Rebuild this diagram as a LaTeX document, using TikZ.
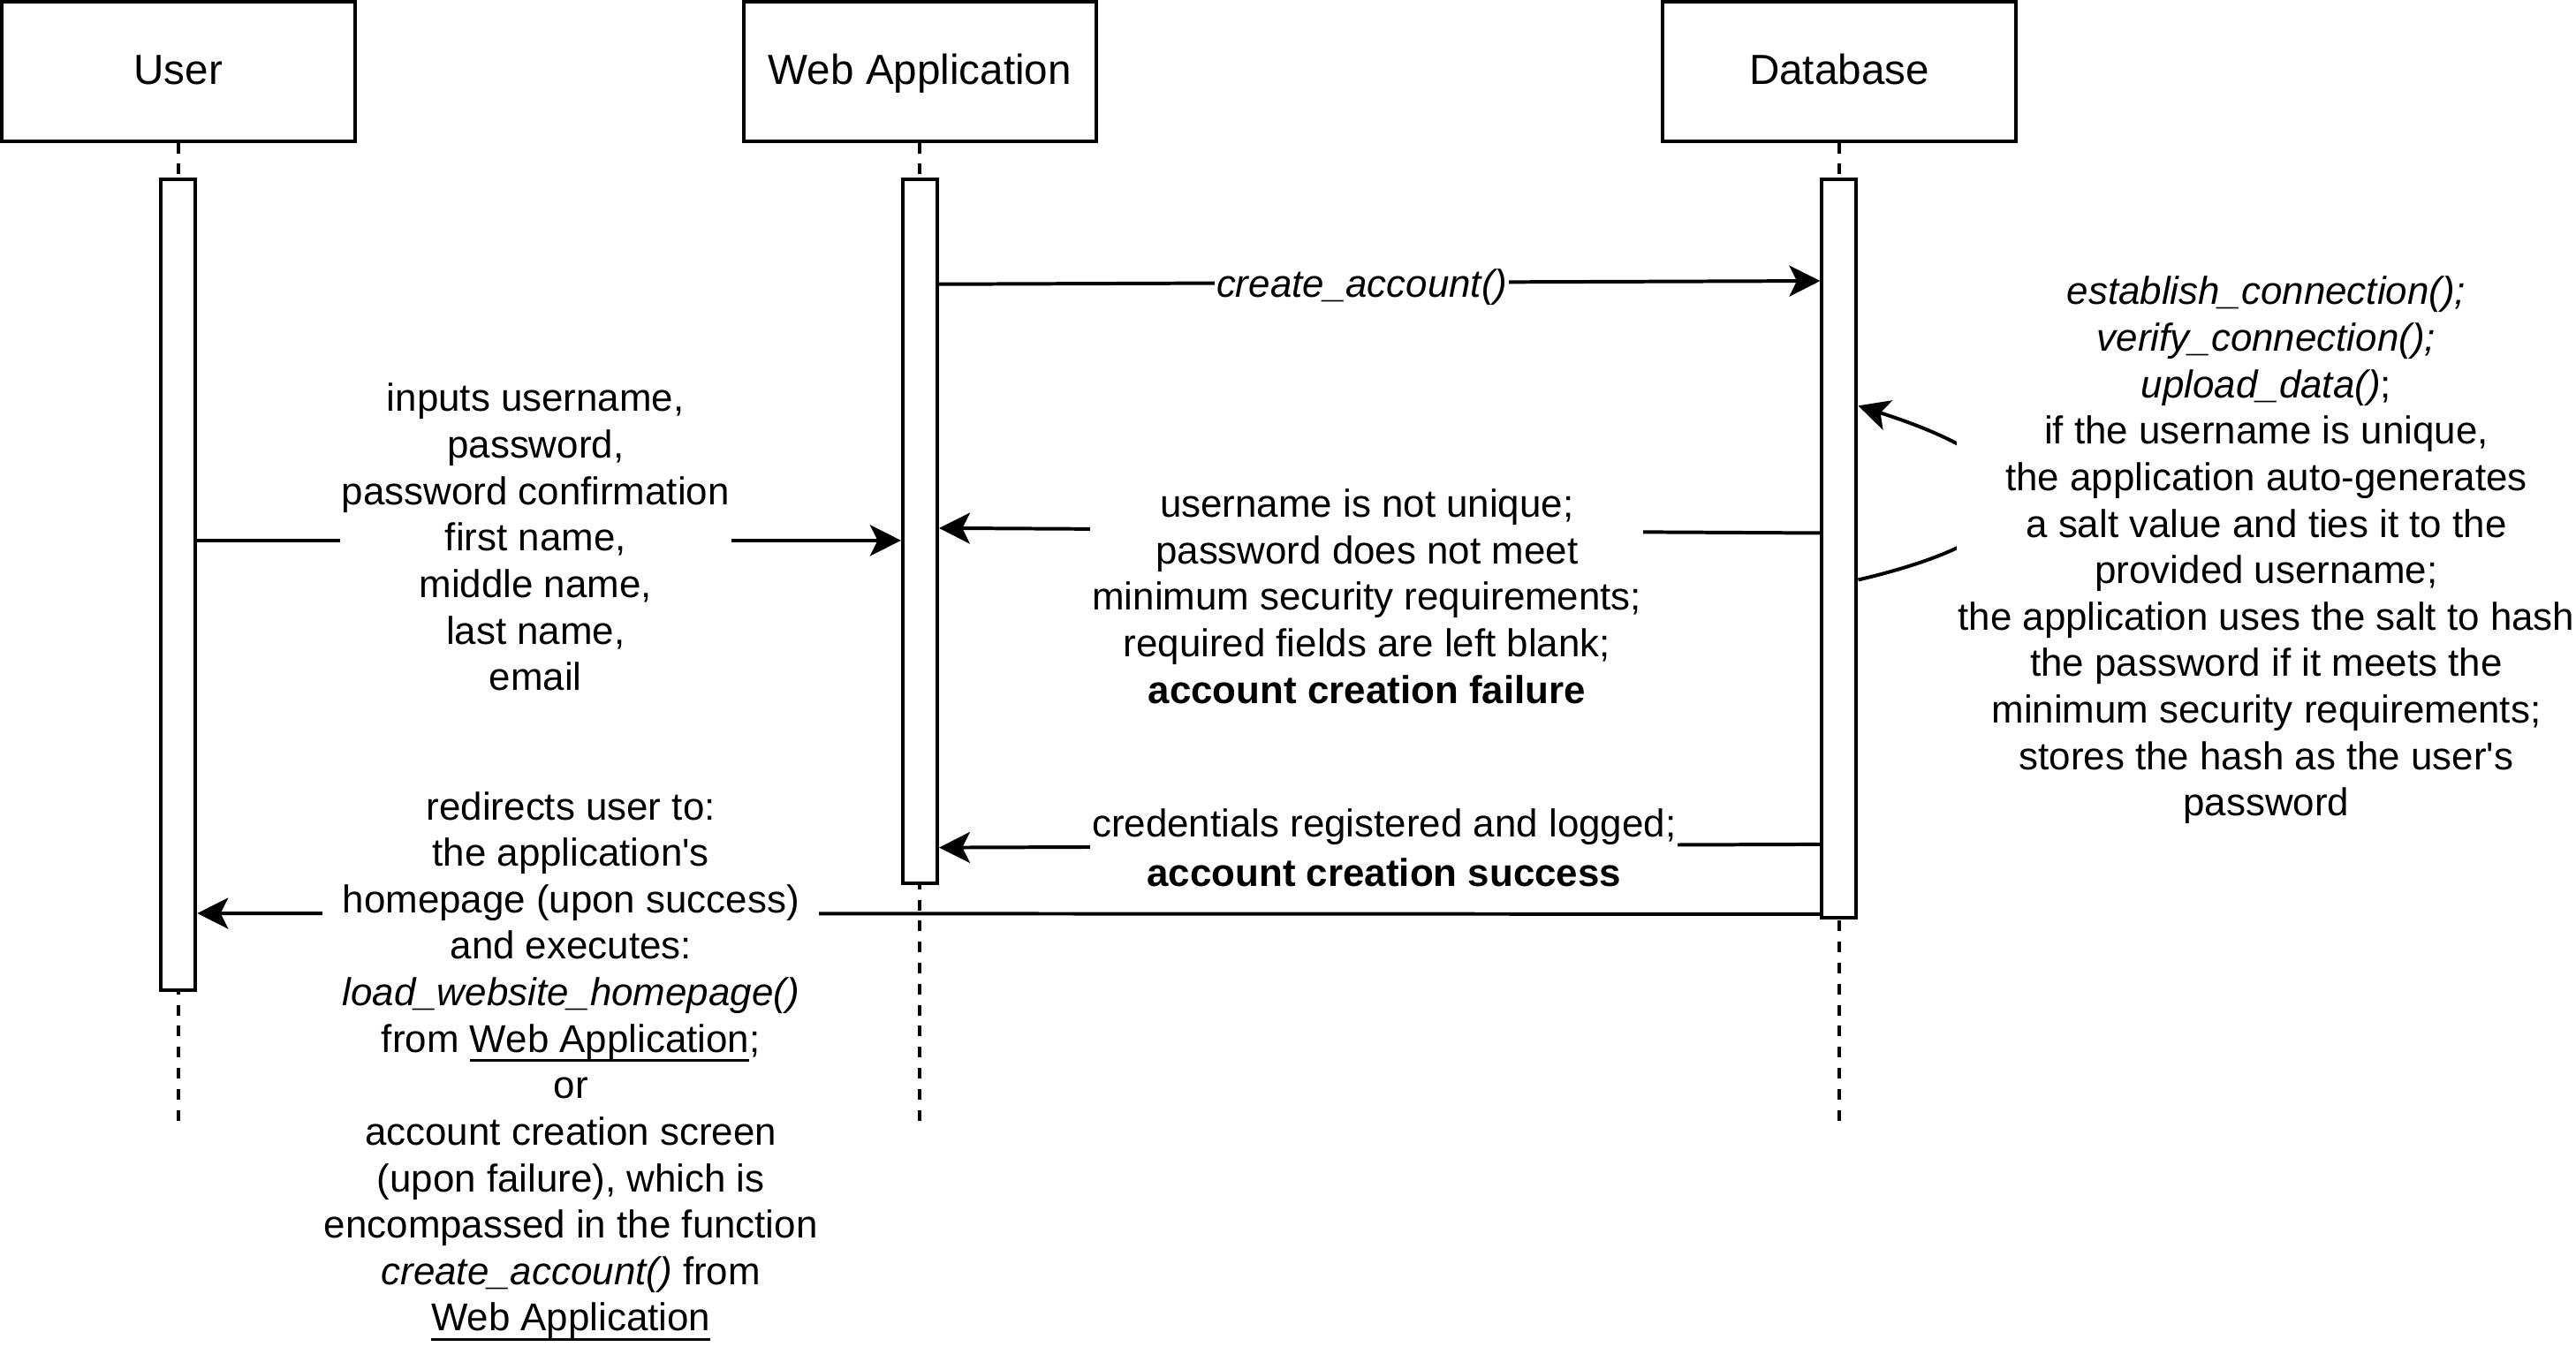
\documentclass[tikz,border=0pt]{standalone}
\usepackage{fontspec}
\setmainfont{Liberation Sans}
\usetikzlibrary{arrows.meta,positioning}
\newcommand{\undl}[1]{\setbox0\hbox{#1}\rlap{\rule[-2.9pt]{\wd0}{0.7pt}}\box0}

\begin{document}
\begin{tikzpicture}[x=0.5pt,y=-0.5pt,line width=1.07pt,>={Stealth[length=9.4pt,width=9.4pt,inset=2.3pt]},
  actor/.style={draw,anchor=north,minimum width=107.4pt,minimum height=42.4pt,inner sep=0pt,text height=9.7pt,text depth=2pt,font=\fontsize{12.8}{15.4}\selectfont},
  activation/.style={draw,fill=white,anchor=north,minimum width=10.5pt,inner sep=0pt},
  lifeline/.style={dash pattern=on 3.2pt off 3.2pt},
  msg/.style={->},
  lbl/.style={fill=white,align=center,inner xsep=0.5pt,inner ysep=1pt,font=\fontsize{11.8}{14.15}\selectfont}]

\useasboundingbox (0,0) rectangle (1568,819.5);

\node[actor] (user) at (108.5,0) {User};
\node[actor] (webapp) at (560,0) {Web Application};
\node[actor] (db) at (1119.5,0) {Database};

\coordinate (user-end) at (108.5,687);
\coordinate (webapp-end) at (560,687);
\coordinate (db-end) at (1119.5,687);
\draw[lifeline] (user) -- (user-end);
\draw[lifeline] (webapp) -- (webapp-end);
\draw[lifeline] (db) -- (db-end);

\node[activation,minimum height=246.9pt] (userbar) at (108.5,108) {};
\node[activation,minimum height=214.4pt] (webbar) at (560,108) {};
\node[activation,minimum height=224.7pt] (dbbar) at (1119.5,108) {};

\coordinate (create-a) at (webbar.east |- 0,173);
\coordinate (create-b) at (dbbar.west |- 0,171);
\coordinate (inputs-a) at (userbar.east |- 0,329);
\coordinate (inputs-b) at (webbar.west |- 0,329);
\coordinate (fail-a) at (dbbar.west |- 0,324.5);
\coordinate (fail-b) at (webbar.east |- 0,321.5);
\coordinate (succ-a) at (dbbar.west |- 0,514);
\coordinate (succ-b) at (webbar.east |- 0,516);
\coordinate (redir-a) at (dbbar.west |- 0,556.5);
\coordinate (redir-b) at (userbar.east |- 0,556);
\coordinate (self-a) at (dbbar.east |- 0,353);
\coordinate (self-b) at (dbbar.east |- 0,247);

\draw[msg] (create-a) -- (create-b);
\draw[msg] (inputs-a) -- (inputs-b);
\draw[msg] (fail-a) -- (fail-b);
\draw[msg] (succ-a) -- (succ-b);
\draw[msg] (redir-a) -- (redir-b);
\draw[msg] (self-a) .. controls (1250,325) and (1250,285) .. (self-b);

\node[lbl] (create-lbl) at (829,175) {\textit{create\_account()}};
\node[lbl] (inputs-lbl) at (326,327) {inputs username,\\password,\\password confirmation\\first name,\\middle name,\\last name,\\email};
\node[lbl] (fail-lbl) at (832,363) {username is not unique;\\password does not meet\\minimum security requirements;\\required fields are left blank;\\\textbf{account creation failure}};
\node[lbl] (succ-lbl) at (842.5,516) {credentials registered and logged;\\[1pt]\textbf{account creation success}};
\node[lbl] (redir-lbl) at (347.5,649) {redirects user to:\\the application\textquotesingle s\\homepage (upon success)\\and executes:\\\textit{load\_website\_homepage()}\\from \undl{Web Application};\\or\\account creation screen\\(upon failure), which is\\encompassed in the function\\\textit{create\_account()} from\\\undl{Web Application}};
\node[lbl] (self-lbl) at (1379.5,335) {\textit{establish\_connection();}\\\textit{verify\_connection();}\\\textit{upload\_data()};\\if the username is unique,\\the application auto-generates\\a salt value and ties it to the\\provided username;\\the application uses the salt to hash\\the password if it meets the\\minimum security requirements;\\stores the hash as the user\textquotesingle s\\password};
\end{tikzpicture}
\end{document}
